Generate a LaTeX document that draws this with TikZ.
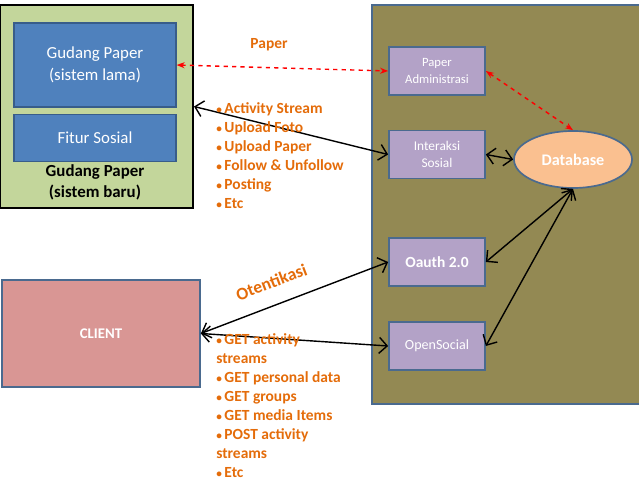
\documentclass[tikz,border=0pt]{standalone}
\usepackage{fontspec}
\setmainfont{Carlito}
\usetikzlibrary{shapes.geometric, arrows.meta, positioning}
\definecolor{oldgreen}{HTML}{C3D69B}
\definecolor{gpblue}{HTML}{4F81BD}
\definecolor{blueedge}{HTML}{385D8A}
\definecolor{srvolive}{HTML}{938953}
\definecolor{modfill}{HTML}{B3A2C7}
\definecolor{modedge}{HTML}{4A6A8F}
\definecolor{dbfill}{HTML}{FAC090}
\definecolor{clientpink}{HTML}{D99694}
\definecolor{orangetxt}{HTML}{E46C0A}
\newcommand{\bul}{{\fontsize{8}{8}\selectfont\textbullet}\,}

\begin{document}
\begin{tikzpicture}[x=0.025cm, y=-0.025cm,
    every node/.style={font=\fontsize{11}{13.5}\selectfont},
    blu/.style={rectangle, draw=blueedge, line width=0.8pt, fill=gpblue, text=white,
                minimum width=4.05cm, align=center, font=\fontsize{12}{16}\selectfont},
    mod/.style={rectangle, draw=modedge, line width=1.2pt, fill=modfill, text=white,
                minimum width=2.4cm, minimum height=1.2cm, align=center},
    lbl/.style={text=orangetxt, font=\bfseries\fontsize{11}{13.5}\selectfont},
    lst/.style={lbl, align=left, anchor=north west, inner sep=0pt},
    arr/.style={{Straight Barb[length=2mm]}-{Straight Barb[length=2mm]}, line width=1pt},
    dsh/.style={{Stealth[length=2mm]}-{Stealth[length=2mm]}, line width=1pt, red, dashed}
]
    \useasboundingbox (0,0) rectangle (639,479);

    % gudang paper (sistem baru)
    \node[rectangle, draw=black, line width=1.4pt, fill=oldgreen, minimum width=4.825cm,
          minimum height=5.075cm] (gpBaru) at (96.5,106.5) {};
    \node[blu, minimum height=2.1cm] (gpLama) at (95,65) {Gudang Paper\\(sistem lama)};
    \node[blu, minimum height=1.175cm, below=0.15cm of gpLama] (fitur) {Fitur Sosial};
    \node[font=\bfseries\fontsize{12}{15}\selectfont, align=center] (gpLbl) at (95,182)
        {Gudang Paper\\(sistem baru)};

    % server side
    \node[rectangle, draw=modedge, line width=1.2pt, fill=srvolive, minimum width=6.9cm,
          minimum height=9.975cm] (srv) at (510,204.5) {};
    \node[mod, font=\fontsize{9}{12.5}\selectfont] (paperAdm) at (437,71) {Paper\\Administrasi};
    \node[mod, font=\fontsize{9.5}{12.5}\selectfont] (interaksi) at (437,154.5) {Interaksi\\Sosial};
    \node[mod, font=\bfseries\fontsize{11}{13}\selectfont] (oauth) at (437,262) {Oauth 2.0};
    \node[mod, font=\fontsize{10}{12}\selectfont] (openSocial) at (437,346) {OpenSocial};
    \node[ellipse, draw=modedge, line width=1.2pt, fill=dbfill, text=white, inner sep=0pt,
          minimum width=2.95cm, minimum height=1.425cm, font=\bfseries\fontsize{11.5}{13}\selectfont]
          (db) at (573,159.5) {Database};

    % client
    \node[rectangle, draw=modedge, line width=1.2pt, fill=clientpink, text=white,
          minimum width=4.95cm, minimum height=2.675cm, font=\bfseries\fontsize{10.5}{13}\selectfont]
          (client) at (101,333.5) {CLIENT};

    \draw[dsh] (gpLama.east) -- (paperAdm.west);
    \node[lbl] (paperLbl) at (269,45) {Paper};
    \draw[arr] (gpBaru.east) -- (interaksi.west);
    \draw[dsh] (paperAdm.east) -- (db.north);
    \draw[arr] (interaksi.east) -- (db.west);
    \draw[arr] (db.south) -- (oauth.east);
    \draw[arr] (db.south) -- (openSocial.east);
    \draw[arr] (client.east) -- node[lbl, sloped, above=8pt, pos=0.42,
        font=\bfseries\fontsize{12.5}{14}\selectfont] (otentikasi) {Otentikasi} (oauth.west);
    \draw[arr] (client.east) -- (openSocial.west);

    \node[lst] (fiturList) at (216,102)
        {\bul Activity Stream\\\bul Upload Foto\\\bul Upload Paper\\
         \bul Follow \& Unfollow\\\bul Posting\\\bul Etc};
    \node[lst] (apiList) at (216,333)
        {\bul GET activity\\streams\\\bul GET personal data\\\bul GET groups\\
         \bul GET media Items\\\bul POST activity\\streams\\\bul Etc};
\end{tikzpicture}
\end{document}
